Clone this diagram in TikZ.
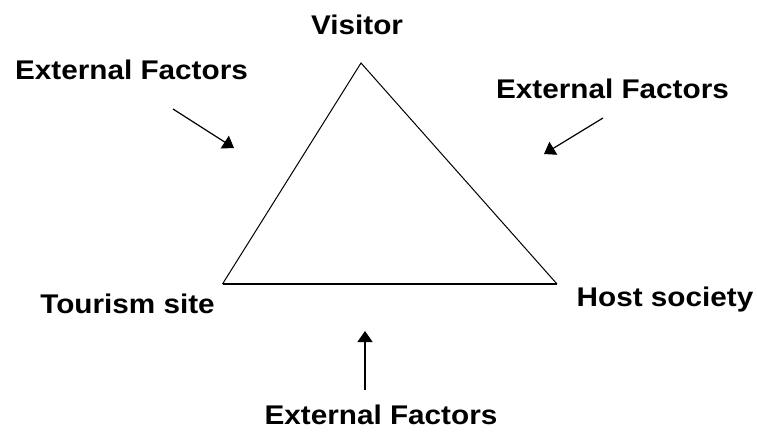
\documentclass[tikz,border=0pt]{standalone}
\usepackage{fontspec}
\setmainfont{Liberation Sans}[FakeStretch=1.1]
\usetikzlibrary{arrows.meta}
\begin{document}
\begin{tikzpicture}[x=1pt,y=-1pt,
  lbl/.style={font=\fontsize{27}{30}\selectfont\bfseries, inner sep=0pt, anchor=base},
  side/.style={line width=1pt},
  base/.style={line width=1.7pt},
  ef/.style={line width=1.2pt, -{Triangle[width=15pt,length=11pt]}}]
\useasboundingbox (0,0) rectangle (757,434);
\fill[white] (0,0) rectangle (757,434);
\coordinate (V) at (361,63);
\coordinate (T) at (222.5,284);
\coordinate (H) at (557,284);
\draw[side] (T) -- (V) -- (H);
\draw[base] (T) -- (H);
\node[lbl] (vis) at (357,34) {Visitor};
\node[lbl] (eftl) at (131.5,79) {External Factors};
\node[lbl] (eftr) at (612.5,98) {External Factors};
\node[lbl] (ts) at (127.5,313) {Tourism site};
\node[lbl] (hs) at (665,306) {Host society};
\node[lbl] (efb) at (381,424) {External Factors};
\coordinate (a1s) at (173,109);
\coordinate (a1e) at (234,148);
\coordinate (a2s) at (603,118);
\coordinate (a2e) at (544,154);
\coordinate (a3s) at (365,390);
\coordinate (a3e) at (365,331);
\draw[ef] (a1s) -- (a1e);
\draw[ef] (a2s) -- (a2e);
\draw[ef] (a3s) -- (a3e);
\end{tikzpicture}
\end{document}
